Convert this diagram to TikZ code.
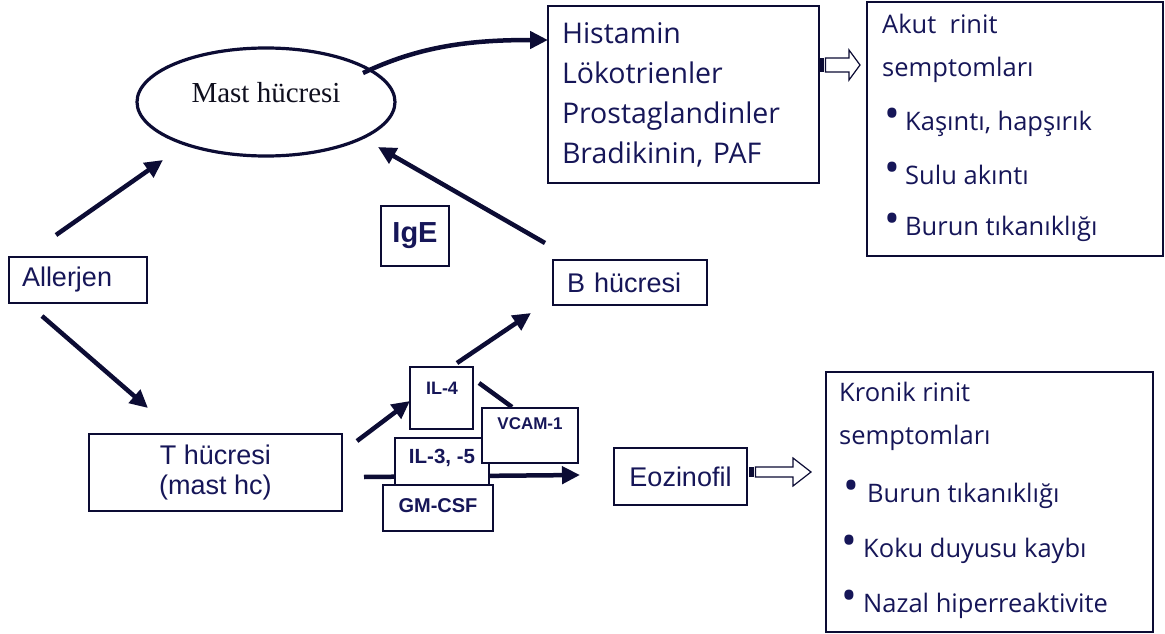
\documentclass[tikz,border=0pt]{standalone}
\usepackage{fontspec}
\setmainfont{Liberation Sans}
\newfontfamily\comicfont{Open Sans}
\newfontfamily\timesfont{Liberation Serif}
\usetikzlibrary{arrows.meta,shapes.geometric}
\definecolor{ink}{RGB}{12,12,52}
\definecolor{txt}{RGB}{22,22,88}
\definecolor{dark}{RGB}{15,15,30}
\newcommand{\bul}[1]{\makebox[#1][l]{\raisebox{2pt}{\fontsize{42}{42}\selectfont •}}}
\tikzset{
  box/.style={draw=ink, line width=1.5pt, fill=white, inner sep=0pt, text=txt},
  arr/.style={draw=ink, line width=4.5pt, -{Triangle[length=18pt,width=17pt]}},
  thickline/.style={draw=ink, line width=4.5pt},
  sanstxt/.style={text=txt, font=\fontsize{27}{30}\selectfont},
  smallbold/.style={text=txt, font=\fontsize{#1}{#1}\selectfont\bfseries, inner sep=0pt},
  comictxt/.style={text=txt, anchor=west, inner sep=0pt, text height=0.75em, text depth=0.25em,
    font=\comicfont\fontsize{25.5}{28}\selectfont},
  hollow/.style={draw=ink, line width=1.2pt, fill=white},
}
\begin{document}
\begin{tikzpicture}[x=1pt,y=-1pt]
\useasboundingbox (0,0) rectangle (1165,634);
\fill[white] (0,0) rectangle (1165,634);

% Mast cell
\node[ellipse, draw=ink, line width=3.2pt, minimum width=258, minimum height=108, inner sep=0pt] (mast) at (266,102) {};
\node[text=dark, font=\timesfont\fontsize{29}{30}\selectfont, inner sep=0pt] (mastlbl) at ([yshift=9pt]mast.center) {Mast hücresi};

% Mediators box
\node[box, minimum width=271, minimum height=177, text width=243, inner xsep=14, align=left,
      font=\comicfont\fontsize{28.5}{40}\selectfont] (hist) at (683.5,94.5)
  {Histamin\\Lökotrienler\\Prostaglandinler\\Bradikinin, PAF};

% Acute symptoms box
\node[box, minimum width=296, minimum height=254] (akut) at (1015,129) {};
\node[comictxt] (ak1) at (882,31) {Akut\ \ rinit};
\node[comictxt] (ak2) at (882,74) {semptomları};
\node[comictxt] (ak3) at (884.5,128) {\bul{20.5pt}Kaşıntı, hapşırık};
\node[comictxt] (ak4) at (884.5,182) {\bul{20.5pt}Sulu akıntı};
\node[comictxt] (ak5) at (884.5,233) {\bul{20.5pt}Burun tıkanıklığı};

% Chronic symptoms box
\node[box, minimum width=327, minimum height=260] (kronik) at (989.5,502) {};
\node[comictxt] (kr1) at (839,399) {Kronik rinit};
\node[comictxt] (kr2) at (839,442) {semptomları};
\node[comictxt] (kr3) at (843.5,500) {\bul{23.5pt}Burun tıkanıklığı};
\node[comictxt] (kr4) at (841.5,555) {\bul{21.5pt}Koku duyusu kaybı};
\node[comictxt] (kr5) at (841.5,610) {\bul{21.5pt}Nazal hiperreaktivite};

% Left side boxes
\node[box, sanstxt, minimum width=138, minimum height=46, text width=112, inner xsep=13, align=left] (allerjen) at (78,280) {Allerjen};
\node[box, sanstxt, minimum width=253, minimum height=77, align=center] (thc) at (215.5,472.5) {T hücresi\\(mast hc)};
\node[box, sanstxt, minimum width=154, minimum height=45, text width=126, inner xsep=14, align=left] (bhc) at (630,282.5) {B hücresi};
\node[box, sanstxt, minimum width=133, minimum height=57] (eoz) at (680.5,476.5) {Eozinofil};
\node[box, smallbold=29, minimum width=68, minimum height=60] (ige) at (415,236) {IgE};

% Coordinates for connectors
\coordinate (a1s) at (56,235);  \coordinate (a1e) at (163,160);
\coordinate (a2s) at (42,316);  \coordinate (a2e) at (148,408);
\coordinate (a3s) at (545,243); \coordinate (a3e) at (378,147);
\coordinate (a4s) at (357,441); \coordinate (a4e) at (410,401);
\coordinate (a5s) at (457,363); \coordinate (a5e) at (531,313);
\coordinate (a6s) at (364,477); \coordinate (a6e) at (580,475);
\coordinate (l7s) at (479,383); \coordinate (l7e) at (512,407);
\coordinate (cs) at (363,73);   \coordinate (ce) at (548,40);

\draw[arr] (a1s) -- (a1e);
\draw[arr] (a2s) -- (a2e);
\draw[arr] (a3s) -- (a3e);
\draw[arr] (cs) .. controls (420,46) and (470,40) .. (ce);
\draw[arr] (a5s) -- (a5e);
\draw[arr] (a6s) -- (a6e);
\draw[arr] (a4s) -- (a4e);
\draw[thickline] (l7s) -- (l7e);

% Cytokine boxes
\node[box, minimum width=63, minimum height=62] (il4) at (441.5,398) {};
\node[smallbold=18] (il4t) at (442,388) {IL-4};
\node[box, minimum width=94, minimum height=47] (il35) at (442,461.5) {};
\node[smallbold=20.5] (il35t) at (442,458) {IL-3, -5};
\node[box, minimum width=96, minimum height=55] (vcam) at (530,435.5) {};
\node[smallbold=17] (vcamt) at (530,424) {VCAM-1};
\node[box, minimum width=110, minimum height=46] (gm) at (438,508) {};
\node[smallbold=20] (gmt) at (438,506) {GM-CSF};

% Striped hollow arrows
\fill[ink] (819,58) rectangle (823.5,72);
\draw[hollow] (825.5,58) -- (849,58) -- (849,50) -- (860,65) -- (849,80) -- (849,72) -- (825.5,72) -- cycle;
\fill[ink] (749,467) rectangle (753.5,477);
\draw[hollow] (755.5,467) -- (793,467) -- (793,458) -- (811,472) -- (793,486) -- (793,477) -- (755.5,477) -- cycle;
\end{tikzpicture}
\end{document}
